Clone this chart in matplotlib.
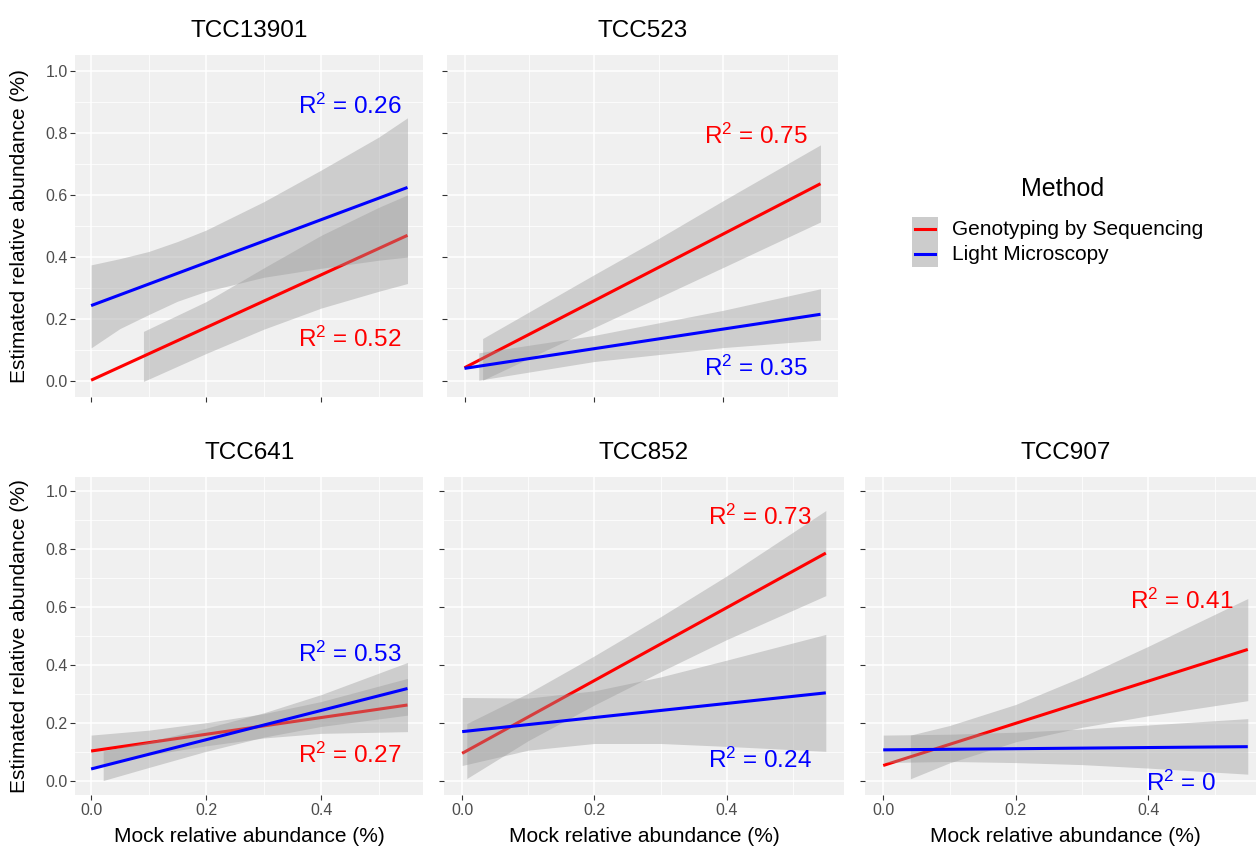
import matplotlib
matplotlib.use("Agg")
import matplotlib.pyplot as plt
from matplotlib.patches import Rectangle
from matplotlib.lines import Line2D

plt.rcParams["font.family"] = ["Liberation Sans", "DejaVu Sans"]
plt.rcParams["mathtext.fontset"] = "custom"
plt.rcParams["mathtext.rm"] = "Liberation Sans"
plt.rcParams["mathtext.default"] = "regular"

# ── data ──────────────────────────────────────────────────────────────────────
panels = ["TCC13901", "TCC523", "TCC641", "TCC852", "TCC907"]
methods = ["Genotyping by Sequencing", "Light Microscopy"]

line_x = [0.0, 0.55]
gbs_line = [[0.004, 0.470], [0.044, 0.636], [0.102, 0.261], [0.094, 0.786], [0.052, 0.453]]
lm_line = [[0.244, 0.624], [0.042, 0.216], [0.040, 0.318], [0.169, 0.303], [0.106, 0.117]]

gbs_band_x = [
    [0.091, 0.2, 0.3, 0.4, 0.5, 0.55],
    [0.028, 0.2, 0.3, 0.4, 0.55],
    [0.0, 0.1, 0.2, 0.3, 0.4, 0.55],
    [0.007, 0.1, 0.2, 0.3, 0.4, 0.55],
    [0.041, 0.1, 0.2, 0.3, 0.4, 0.55],
]
gbs_band_lo = [
    [0.0, 0.090, 0.168, 0.236, 0.290, 0.315],
    [0.004, 0.173, 0.270, 0.367, 0.513],
    [0.048, 0.088, 0.120, 0.147, 0.163, 0.169],
    [0.007, 0.138, 0.261, 0.376, 0.487, 0.639],
    [0.006, 0.061, 0.134, 0.184, 0.224, 0.276],
]
gbs_band_hi = [
    [0.161, 0.257, 0.365, 0.470, 0.560, 0.600],
    [0.138, 0.343, 0.460, 0.582, 0.761],
    [0.157, 0.174, 0.200, 0.231, 0.273, 0.353],
    [0.197, 0.302, 0.431, 0.566, 0.707, 0.933],
    [0.157, 0.190, 0.263, 0.358, 0.464, 0.629],
]

lm_band_x = [
    [0.0, 0.05, 0.1, 0.15, 0.2, 0.3, 0.4, 0.5, 0.55],
    [0.022, 0.2, 0.4, 0.55],
    [0.021, 0.1, 0.2, 0.3, 0.4, 0.55],
    [0.0, 0.1, 0.2, 0.3, 0.4, 0.55],
    [0.0, 0.1, 0.2, 0.3, 0.4, 0.55],
]
lm_band_lo = [
    [0.108, 0.170, 0.215, 0.258, 0.290, 0.335, 0.364, 0.390, 0.400],
    [0.004, 0.064, 0.109, 0.133],
    [0.0, 0.045, 0.101, 0.150, 0.187, 0.226],
    [0.052, 0.105, 0.128, 0.128, 0.118, 0.101],
    [0.062, 0.066, 0.062, 0.055, 0.043, 0.022],
]
lm_band_hi = [
    [0.375, 0.395, 0.418, 0.450, 0.487, 0.578, 0.680, 0.786, 0.848],
    [0.092, 0.148, 0.229, 0.298],
    [0.102, 0.135, 0.181, 0.234, 0.297, 0.408],
    [0.287, 0.285, 0.310, 0.358, 0.416, 0.505],
    [0.157, 0.160, 0.167, 0.178, 0.192, 0.214],
]

gbs_r2 = ["0.52", "0.75", "0.27", "0.73", "0.41"]
lm_r2 = ["0.26", "0.35", "0.53", "0.24", "0"]
gbs_r2_y = [0.111, 0.765, 0.062, 0.882, 0.592]
lm_r2_y = [0.861, 0.017, 0.410, 0.043, -0.036]
r2_x = 0.45

x_ticks = [0.0, 0.2, 0.4]
y_ticks = [0.0, 0.2, 0.4, 0.6, 0.8, 1.0]

# ── layout (pixel boxes: left, top, right, bottom) ───────────────────────────
W, H = 1256, 849
boxes = [(75.3, 55, 423.3, 397), (446.7, 55, 838.3, 397),
         (75.3, 476.7, 423.3, 795), (444, 476.7, 844, 795), (865, 476.7, 1266, 795)]
show_ylab = [True, False, True, False, False]
show_xlab = [False, False, True, True, True]

RED, BLUE = "#FF0000", "#0000FF"
PANEL_BG = "#F0F0F0"
BAND = "#999999"

fig = plt.figure(figsize=(W / 100, H / 100), dpi=100, facecolor="white")


def px(x, y):
    return x / W, 1 - y / H


for i, name in enumerate(panels):
    l, t, r, b = boxes[i]
    ax = fig.add_axes([l / W, 1 - b / H, (r - l) / W, (b - t) / H])
    ax.set_facecolor(PANEL_BG)
    for s in ax.spines.values():
        s.set_visible(False)
    ax.set_xlim(-0.0275, 0.5775)
    ax.set_ylim(-0.05, 1.05)
    ax.set_xticks(x_ticks)
    ax.set_xticks([0.1, 0.3, 0.5], minor=True)
    ax.set_yticks(y_ticks)
    ax.set_yticks([0.1, 0.3, 0.5, 0.7, 0.9], minor=True)
    ax.grid(which="major", color="white", linewidth=1.1)
    ax.grid(which="minor", color="white", linewidth=0.55)
    ax.set_axisbelow(True)
    ax.tick_params(which="major", length=3.3, width=0.8, color="#333333",
                   labelsize=11.5, labelcolor="#4D4D4D", pad=2.2)
    ax.tick_params(which="minor", length=0)
    ax.set_yticklabels([f"{v:.1f}" for v in y_ticks] if show_ylab[i] else [])
    ax.set_xticklabels([f"{v:.1f}" for v in x_ticks] if show_xlab[i] else [])

    # Genotyping by Sequencing first, then Light Microscopy on top
    ax.fill_between(gbs_band_x[i], gbs_band_lo[i], gbs_band_hi[i],
                    color=BAND, alpha=0.4, linewidth=0, zorder=2)
    ax.plot(line_x, gbs_line[i], color=RED, linewidth=2.2, zorder=3,
            solid_capstyle="butt")
    ax.fill_between(lm_band_x[i], lm_band_lo[i], lm_band_hi[i],
                    color=BAND, alpha=0.4, linewidth=0, zorder=4)
    ax.plot(line_x, lm_line[i], color=BLUE, linewidth=2.2, zorder=5,
            solid_capstyle="butt")

    ax.text(r2_x, gbs_r2_y[i], f"R$^2$ = {gbs_r2[i]}", color=RED, fontsize=17.5,
            ha="center", va="baseline", zorder=6)
    ax.text(r2_x, lm_r2_y[i], f"R$^2$ = {lm_r2[i]}", color=BLUE, fontsize=17.5,
            ha="center", va="baseline", zorder=6)

    # facet strip title
    fig.text(*px((l + r) / 2, t - 18), name, fontsize=17.5, ha="center",
             va="baseline", color="black")

    if show_ylab[i]:
        fig.text(*px(20, (t + b) / 2), "Estimated relative abundance (%)",
                 rotation=90, fontsize=15, ha="center", va="center")
    if show_xlab[i]:
        fig.text(*px((l + r) / 2, 837), "Mock relative abundance (%)",
                 fontsize=15, ha="center", va="center")

# ── legend ────────────────────────────────────────────────────────────────────
fig.text(*px(1063, 189), "Method", fontsize=18, ha="center", va="center")
x0, y0 = px(912.3, 266.7)
x1, y1 = px(937.7, 216.7)
fig.add_artist(Rectangle((x0, y0), x1 - x0, y1 - y0, transform=fig.transFigure,
                         facecolor="#CCCCCC", edgecolor="none"))
for k, (col, yk) in enumerate([(RED, 229.3), (BLUE, 254.3)]):
    xa, ya = px(915, yk)
    xb, _ = px(935, yk)
    fig.add_artist(Line2D([xa, xb], [ya, ya], transform=fig.transFigure,
                          color=col, linewidth=2.2))
    fig.text(*px(952, yk), methods[k], fontsize=15, ha="left", va="center")

fig.savefig("out.png", dpi=100, facecolor="white")
